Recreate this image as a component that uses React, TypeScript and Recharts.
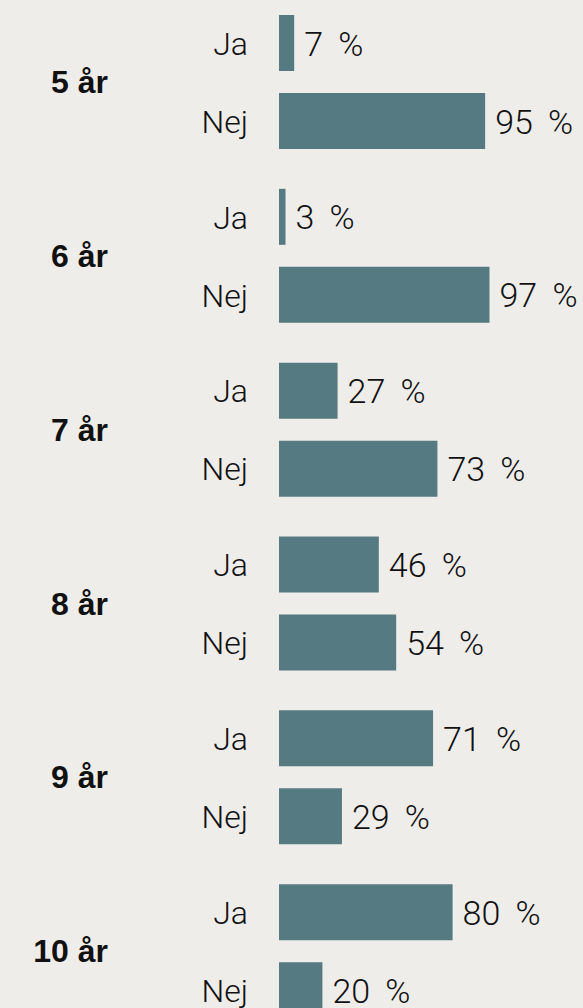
import { Bar, BarChart, LabelList, XAxis, YAxis } from 'recharts';

const ages = ['5 år', '6 år', '7 år', '8 år', '9 år', '10 år'];
const answers = ['Ja', 'Nej'];
const jaValues = [7, 3, 27, 46, 71, 80];
const nejValues = [95, 97, 73, 54, 29, 20];

const data = ages.map((age, i) => ({ age, ja: jaValues[i], nej: nejValues[i] }));

const BG = '#eeedea';
const BAR = '#567a81';
const INK = '#111111';
const FONT = 'Roboto, "Liberation Sans", sans-serif';
const BOLD_FONT = '"Liberation Sans", Arial, sans-serif';

const AgeTick = (props: any) => {
	const { y, payload } = props;
	return (
		<g>
			<text x={108} y={y} dy="0.35em" textAnchor="end" fontFamily={BOLD_FONT} fontWeight={700} fontSize={32} fill={INK}>
				{payload.value}
			</text>
			<text x={248} y={y - 39} dy="0.37em" textAnchor="end" fontFamily={FONT} fontWeight={300} fontSize={32} fill={INK}>
				{answers[0]}
			</text>
			<text x={248} y={y + 39} dy="0.37em" textAnchor="end" fontFamily={FONT} fontWeight={300} fontSize={32} fill={INK}>
				{answers[1]}
			</text>
		</g>
	);
};

// value + space + thin space + % (the source has a wide gap before the percent sign)
const ValueLabel = (props: any) => {
	const { x, y, width, height, value } = props;
	return (
		<text x={x + width + 10} y={y + height / 2} dy="0.37em" fontFamily={FONT} fontWeight={300} fontSize={34} fill={INK}>
			{`${value} \u2009%`}
		</text>
	);
};

export default function App() {
	return (
		<div style={{ position: 'fixed', top: 0, left: 0, width: 583, height: 1008, overflow: 'hidden', background: BG }}>
			<div style={{ position: 'absolute', top: -5, left: 0 }}>
				<BarChart
					width={583}
					height={1043}
					data={data}
					layout="vertical"
					margin={{ top: 0, right: 87, bottom: 0, left: 0 }}
					barSize={56}
					barGap={22}
				>
					<XAxis type="number" domain={[0, 100]} hide />
					<YAxis
						type="category"
						dataKey="age"
						width={279}
						axisLine={false}
						tickLine={false}
						tick={<AgeTick />}
						interval={0}
					/>
					<Bar dataKey="ja" fill={BAR} isAnimationActive={false}>
						<LabelList dataKey="ja" content={<ValueLabel />} />
					</Bar>
					<Bar dataKey="nej" fill={BAR} isAnimationActive={false}>
						<LabelList dataKey="nej" content={<ValueLabel />} />
					</Bar>
				</BarChart>
			</div>
		</div>
	);
}
